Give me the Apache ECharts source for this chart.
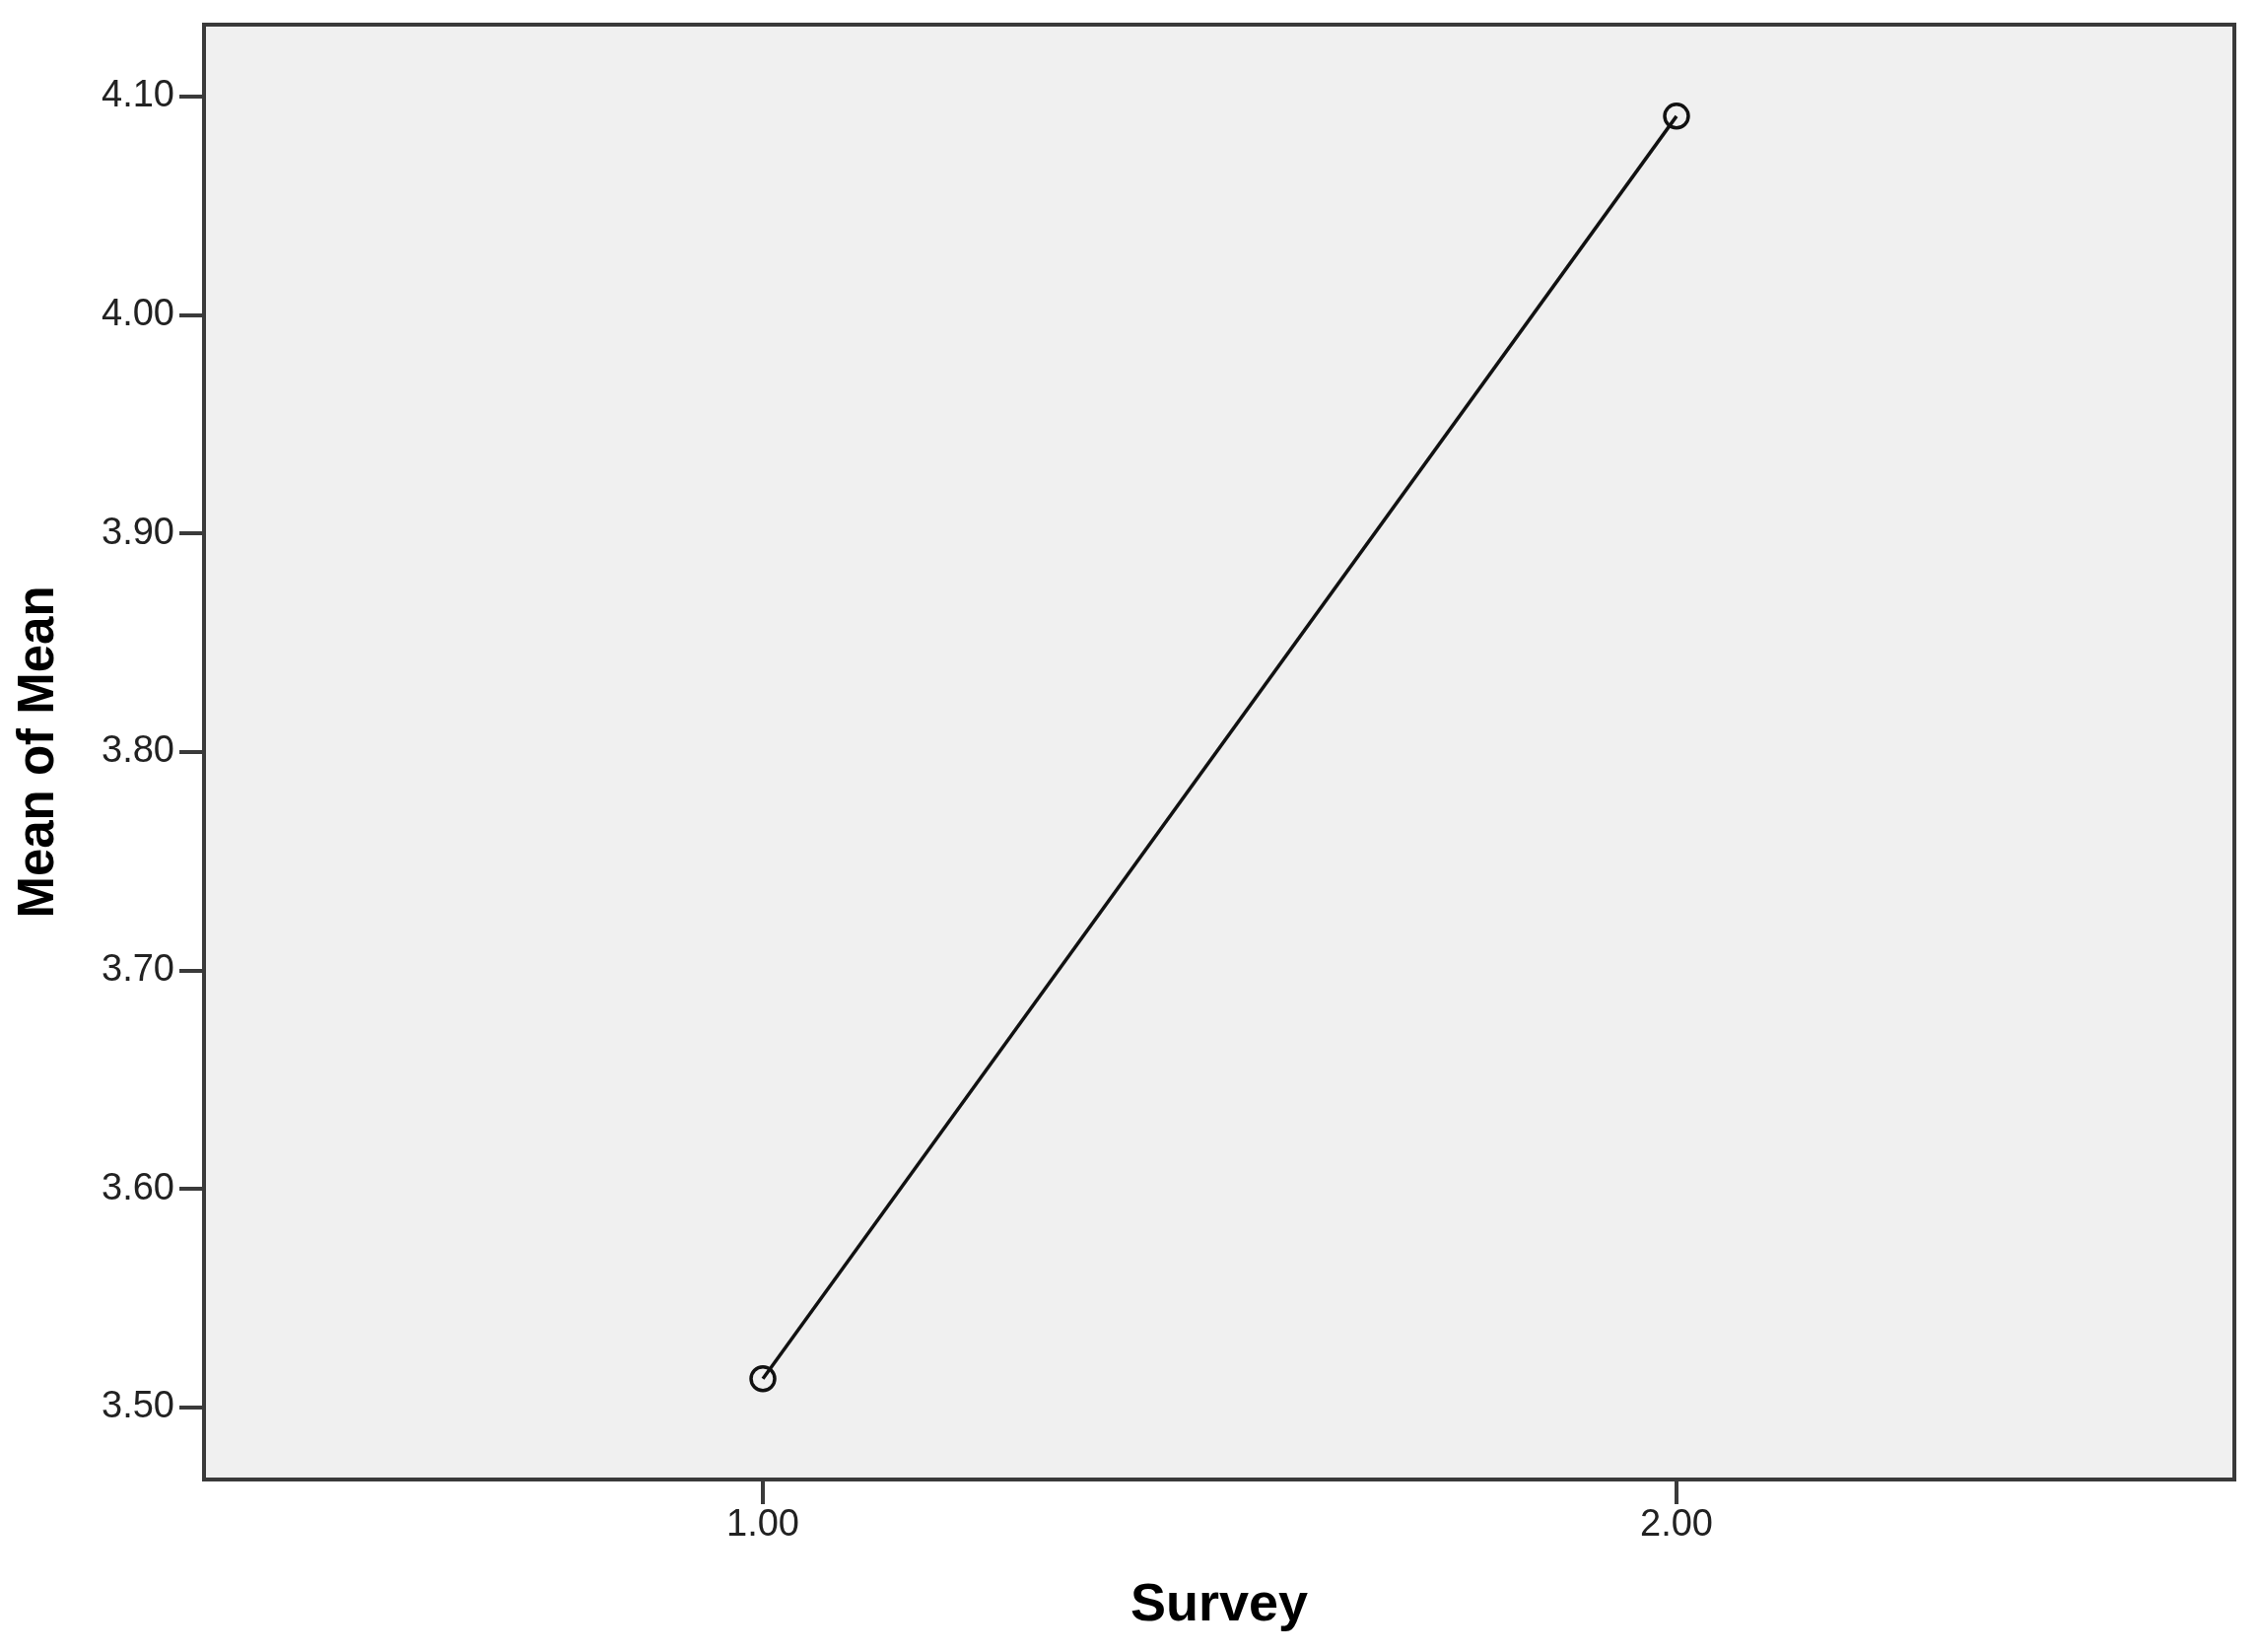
<!DOCTYPE html>
<html>
<head>
<meta charset="utf-8">
<script src="https://cdn.jsdelivr.net/npm/echarts@6/dist/echarts.min.js"></script>
<style>
  html, body { margin: 0; padding: 0; background: #ffffff; }
  #chart { width: 2292px; height: 1676px; }
</style>
</head>
<body>
<div id="chart"></div>
<script>
// Data
const surveyValues = [1, 2];
const meanOfMean = [3.513, 4.091];
const yTickValues = [3.5, 3.6, 3.7, 3.8, 3.9, 4.0, 4.1];
const xTickValues = [1, 2];
const xAxisTitle = 'Survey';
const yAxisTitle = 'Mean of Mean';

const chart = echarts.init(document.getElementById('chart'), null, { renderer: 'canvas' });
const FONT = '"Liberation Sans", Arial, sans-serif';

const option = {
  backgroundColor: '#ffffff',
  animation: false,
  grid: {
    left: 207, right: 25, top: 25, bottom: 175,
    show: true,
    backgroundColor: '#f0f0f0',
    borderColor: '#3a3a3a',
    borderWidth: 4
  },
  xAxis: {
    type: 'value',
    min: 0.3883,
    max: 2.6106,
    name: xAxisTitle,
    nameLocation: 'middle',
    nameGap: 101,
    nameTextStyle: { fontFamily: FONT, fontSize: 54, fontWeight: 'bold', color: '#000' },
    splitLine: { show: false },
    axisLine: { show: true, onZero: false, lineStyle: { color: '#3a3a3a', width: 4 } },
    axisTick: { show: true, inside: false, length: 25, lineStyle: { color: '#3a3a3a', width: 4 }, customValues: xTickValues },
    axisLabel: {
      show: true, margin: 28, fontFamily: FONT, fontSize: 38, color: '#222',
      customValues: xTickValues,
      formatter: v => Number(v).toFixed(2)
    }
  },
  yAxis: {
    type: 'value',
    min: 3.4669,
    max: 4.1329,
    name: yAxisTitle,
    nameLocation: 'middle',
    nameGap: 142,
    nameRotate: 90,
    nameTextStyle: { fontFamily: FONT, fontSize: 51, fontWeight: 'bold', color: '#000' },
    splitLine: { show: false },
    axisLine: { show: true, onZero: false, lineStyle: { color: '#3a3a3a', width: 4 } },
    axisTick: { show: true, inside: false, length: 25, lineStyle: { color: '#3a3a3a', width: 4 }, customValues: yTickValues },
    axisLabel: {
      show: true, margin: 30, fontFamily: FONT, fontSize: 38, color: '#222',
      customValues: yTickValues,
      formatter: v => Number(v).toFixed(2)
    }
  },
  series: [{
    type: 'line',
    data: surveyValues.map((x, i) => [x, meanOfMean[i]]),
    symbol: 'circle',
    symbolSize: 24,
    showAllSymbol: true,
    lineStyle: { color: '#111', width: 3.5 },
    itemStyle: { color: 'rgba(0,0,0,0)', borderColor: '#111', borderWidth: 3.5 },
    z: 3
  }]
};
chart.setOption(option);
</script>
</body>
</html>
